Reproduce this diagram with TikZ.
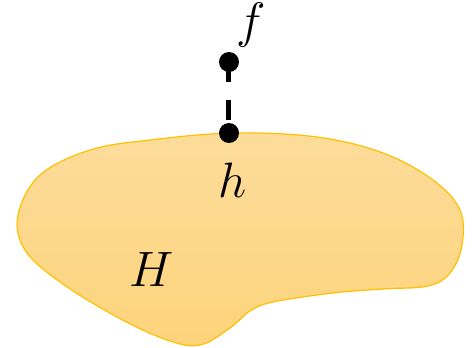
\documentclass[tikz,border=0pt]{standalone}
\begin{document}
\begin{tikzpicture}[x=0.5pt,y=-0.5pt,
  lbl/.style={font=\fontsize{29}{32}\selectfont,inner sep=1pt},
  dotnode/.style={circle,fill=black,inner sep=0pt,minimum size=10pt}]
\useasboundingbox (0,0) rectangle (473,348);
\definecolor{blobtop}{HTML}{FDDC9B}
\definecolor{blobbot}{HTML}{FDD47B}
\definecolor{blobline}{HTML}{FFC000}
\draw[blobline,line width=0.6pt,top color=blobtop,bottom color=blobbot]
  plot[smooth cycle,tension=0.6] coordinates {
  (233,133) (317,137) (383,153) (433,180) (460,210) (462,245) (450,273)
  (428,286) (383,289) (333,293) (273,302) (250,311) (230,328) (200,345)
  (167,340) (117,317) (60,282) (25,250) (18,215) (40,175) (90,150) (150,140)};
\node[dotnode] (f) at (229,62) {};
\node[dotnode] (h) at (229,133) {};
\draw[line width=2.5pt,dash pattern=on 10pt off 9pt] (f.center) -- (h.center);
\node[lbl] (fl) at (251,25) {$f$};
\node[lbl] (hl) at (233,180) {$h$};
\node[lbl] (Hl) at (152,270) {$H$};
\end{tikzpicture}
\end{document}
